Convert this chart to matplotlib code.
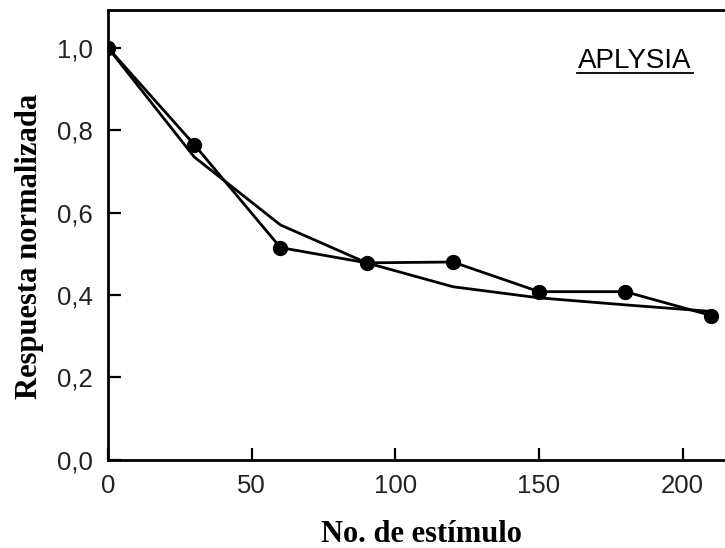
import numpy as np
import matplotlib.pyplot as plt
from matplotlib.lines import Line2D

# habituation data, normalised response per stimulus number
estimulo = [0, 30, 60, 90, 120, 150, 180, 210]
respuesta = [1.0, 0.765, 0.515, 0.478, 0.48, 0.408, 0.408, 0.35]
# fitted decay curve at the same stimulus numbers
ajuste = [1.0, 0.735, 0.57, 0.478, 0.42, 0.393, 0.376, 0.36]

x_ticks = [0, 50, 100, 150, 200]
y_ticks = [0.0, 0.2, 0.4, 0.6, 0.8, 1.0]
y_labels = ['0,0', '0,2', '0,4', '0,6', '0,8', '1,0']

fig = plt.figure(figsize=(7.25, 5.48), dpi=100)
ax = fig.add_axes([0.149, 0.161, 0.86, 0.821])

ax.plot(estimulo, ajuste, color='black', linewidth=2.0, zorder=2)
ax.plot(estimulo, respuesta, color='black', linewidth=2.0, marker='o',
        markersize=10, zorder=3)

ax.set_xlim(0, 217)
ax.set_ylim(0, 1.092)
ax.set_xticks(x_ticks)
ax.set_xticklabels([str(t) for t in x_ticks])
ax.set_yticks(y_ticks)
ax.set_yticklabels(y_labels)

ax.tick_params(direction='in', length=9, width=1.6, labelsize=18.5)
ax.tick_params(axis='x', pad=10)
ax.tick_params(axis='y', pad=11)
for lab in ax.get_xticklabels() + ax.get_yticklabels():
    lab.set_family('Liberation Sans')
    lab.set_color('#222222')

for side in ['left', 'bottom', 'top']:
    ax.spines[side].set_linewidth(2.0)
ax.spines['right'].set_visible(False)

ax.set_xlabel('No. de estímulo', family='Liberation Serif', fontweight='bold',
              fontsize=22)
ax.set_ylabel('Respuesta normalizada', family='Liberation Serif', fontweight='bold',
              fontsize=22)
ax.xaxis.set_label_coords(0.503, -0.133)
ax.yaxis.set_label_coords(-0.103, 0.474)

# label with underline
ax.text(0.845, 0.887, 'APLYSIA', transform=ax.transAxes, ha='center', va='center',
        family='Liberation Sans', fontsize=20)
ax.add_line(Line2D([0.752, 0.938], [0.86, 0.86], transform=ax.transAxes,
                   color='black', linewidth=1.3))

fig.savefig('out.png', dpi=100)
